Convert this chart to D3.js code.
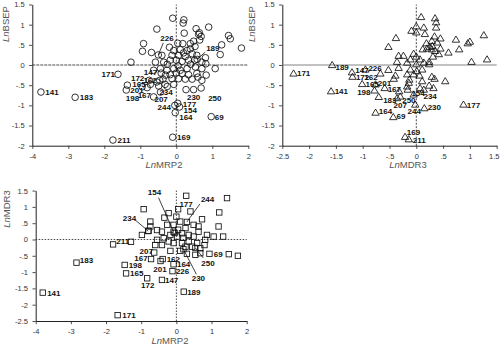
<!DOCTYPE html>
<html><head><meta charset="utf-8">
<script src="https://cdn.jsdelivr.net/npm/d3@7"></script>
<style>body{margin:0;background:#fff}svg{display:block}</style>
</head><body><svg id="c" width="500" height="347"></svg>
<script>
// ---------- DATA ----------
// Panel A: LnMRP2 (x) vs LnBSEP (y) — unlabeled cases
const mrp2BsepPoints = [
 [-0.10,1.16],[0.21,1.12],[0.19,1.04],[-0.54,0.89],[0.55,0.90],[0.90,0.94],[0.64,0.80],[0.22,0.79],
 [0.69,0.71],[0.62,0.76],[0.65,0.62],[1.45,0.73],[1.50,0.65],[-0.91,0.53],[1.26,0.50],[1.81,0.42],
 [-0.94,0.34],[-0.69,0.31],[1.22,0.26],[-1.26,0.07],[1.08,-0.09],[0.82,0.03],[0.83,-0.25],[-0.40,0.24],
 [-0.19,0.44],[0.04,0.54],[0.18,0.53],[0.39,0.53],[0.48,0.59],[0.39,0.40],[0.30,0.36],[0.11,0.38],
 [-0.07,0.36],[-0.12,0.24],[0.06,0.24],[0.25,0.21],[0.44,0.28],[0.57,0.24],[0.81,0.18],[-0.58,0.07],
 [-0.35,0.07],[-0.17,0.12],[0.00,0.12],[0.16,0.09],[0.34,0.12],[0.51,0.12],[0.71,0.07],[0.71,-0.09],
 [0.53,-0.05],[0.30,-0.09],[0.11,-0.13],[-0.07,-0.09],[-0.26,-0.13],[-0.44,-0.09],[-0.63,-0.13],[0.16,-0.21],
 [0.34,-0.24],[0.57,-0.21],[0.71,-0.38],[0.44,-0.35],[0.25,-0.35],[0.06,-0.34],[-0.12,-0.34],[-0.17,-0.24],
 [-0.37,-0.35],[-0.54,-0.42],[-0.72,-0.48],[-0.95,-0.54],[-0.49,-0.52],[-0.31,-0.48],[-0.07,-0.48],[0.27,-0.61],
 [0.05,-0.02],[-0.25,0.02],[0.40,0.02],[0.20,0.30],[-0.30,-0.25],[0.52,0.46],[0.60,-0.30],[0.00,-0.20]
];
const mrp2BsepLabeled = [
 [-3.76,-0.67,"141"],[-2.81,-0.80,"183"],[-1.76,-1.86,"211"],[-1.62,-0.23,"171"],[-0.10,-1.79,"169"],
 [0.97,-1.28,"69"],[0.04,-0.95,"177"],[0.09,-1.04,"154"],[-0.03,-1.18,"164"],[-0.04,-1.00,"244"],
 [0.48,-0.61,"230"],[0.69,-0.57,"250"],[-1.39,-0.62,"198"],[-1.36,-0.50,"165"],[-0.81,-0.56,"201"],
 [-0.63,-0.79,"167"],[-0.44,-0.67,"207"],[-0.25,-0.53,"234"],[-0.75,-0.38,"172"],[-0.42,-0.20,"147"],
 [-0.46,-0.38,"162"],[-0.50,0.25,"226"],[0.58,0.14,"189"]
];
// Panel B: LnMDR3 (x) vs LnBSEP (y)
const mdr3BsepPoints = [
 [0.09,1.19],[0.35,1.16],[0.00,0.96],[0.14,0.93],[-0.09,0.85],[0.00,0.81],[0.16,0.77],[0.37,1.06],
 [0.37,0.93],[1.26,0.74],[-0.38,0.67],[0.74,0.63],[0.34,0.71],[0.45,0.66],[0.29,0.60],[0.39,0.56],
 [0.19,0.54],[0.96,0.54],[1.00,0.58],[-0.52,0.45],[0.45,0.41],[0.80,0.39],[0.12,0.39],[0.20,0.41],
 [0.29,0.39],[0.35,0.35],[0.60,0.31],[0.42,0.27],[1.32,0.14],[1.03,0.08],[0.24,0.08],[0.31,0.21],
 [-0.33,0.23],[-0.24,0.23],[-0.05,0.28],[0.07,0.14],[0.00,0.21],[-0.11,0.14],[-0.17,0.06],[-0.36,0.08],
 [0.00,0.02],[0.14,0.06],[0.24,0.02],[-0.33,-0.07],[-0.52,-0.12],[-0.11,-0.11],[0.01,-0.15],[0.11,-0.11],
 [-0.17,-0.23],[-0.05,-0.23],[0.06,-0.26],[-0.39,-0.26],[-0.42,-0.34],[-0.13,-0.36],[0.11,-0.40],[0.29,-0.29],
 [0.34,-0.34],[0.54,-0.40],[0.24,-0.51],[0.07,-0.57],[-0.17,-0.53],[-0.14,-0.44],[-0.32,-0.65],[-0.05,-0.73],
 [0.14,-0.61],[0.25,0.45],[0.30,0.47]
];
const mdr3BsepLabeled = [
 [-2.29,-0.21,"171"],[-1.57,0.00,"189"],[-1.59,-0.65,"141"],[-1.20,-0.18,"147"],[-0.95,-0.11,"226"],
 [-1.19,-0.29,"172"],[-0.67,-0.21,"162"],[-1.01,-0.47,"165"],[-0.76,-0.48,"201"],[-0.59,-0.57,"167"],
 [-0.78,-0.63,"198"],[-0.70,-0.79,"183"],[-0.36,-0.82,"207"],[-0.30,-0.78,"250"],[-0.16,-0.61,"154"],
 [0.32,-0.57,"234"],[-0.76,-1.18,"164"],[-0.43,-1.29,"69"],[-0.02,-0.98,"244"],[0.15,-1.07,"230"],
 [0.88,-0.98,"177"],[-0.21,-1.78,"169"],[-0.14,-1.84,"211"]
];
// Panel C: LnMRP2 (x) vs LnMDR3 (y)
const mrp2Mdr3Points = [
 [-1.29,-0.07],[0.28,1.34],[1.44,1.27],[-0.22,0.81],[-0.34,0.67],[0.00,0.70],[0.40,0.86],[-0.93,0.93],
 [1.22,0.83],[0.73,0.62],[1.20,0.40],[-0.74,0.55],[-0.74,0.40],[-0.98,0.14],[-0.55,0.29],[-0.41,0.24],
 [-0.79,0.27],[-0.26,0.45],[-0.08,0.45],[0.11,0.55],[0.26,0.35],[0.49,0.45],[0.63,0.40],[0.63,0.24],
 [0.87,0.14],[1.06,0.09],[1.33,0.09],[-0.17,0.14],[0.02,0.09],[0.16,0.19],[0.35,0.14],[0.49,0.09],
 [-0.36,0.04],[-0.55,-0.01],[-0.22,-0.06],[-0.08,-0.11],[0.16,-0.11],[0.35,-0.06],[0.59,-0.11],[0.82,-0.01],
 [0.80,-0.17],[0.68,-0.27],[0.45,-0.22],[0.26,-0.22],[-0.41,-0.17],[-0.60,-0.17],[0.11,-0.35],[0.30,-0.44],
 [0.54,-0.47],[-0.17,-0.35],[1.49,-0.45],[1.75,-0.50],[0.68,-0.42],[0.05,0.30],[0.20,0.05],[-0.05,0.20]
];
const mrp2Mdr3Labeled = [
 [-3.80,-1.63,"141"],[-2.84,-0.71,"183"],[-1.67,-2.32,"171"],[-1.80,-0.15,"211"],[-1.47,-0.78,"198"],
 [-1.43,-1.04,"165"],[-0.83,-1.19,"172"],[-0.41,-1.24,"147"],[-0.45,-0.66,"201"],[-0.39,-0.60,"162"],
 [-0.08,-0.76,"164"],[-0.11,-0.97,"226"],[0.21,-1.60,"189"],[0.94,-0.44,"69"],[-0.72,-0.60,"167"],
 [-0.63,-0.40,"207"],[0.05,0.93,"177"],[-0.08,0.24,"154"],[0.30,0.54,"244"],[-0.80,0.26,"234"],
 [0.20,-0.30,"230"],[0.54,-0.26,"250"]
];
// tick values
const ticksMRP2 = [-4,-3,-2,-1,0,1,2];
const ticksBSEP = [-2,-1.5,-1,-0.5,0,0.5,1,1.5];
const ticksMDR3x = [-2.5,-2,-1.5,-1,-0.5,0,0.5,1,1.5];
const ticksMDR3y = [-2.5,-2,-1.5,-1,-0.5,0,0.5,1,1.5];

// ---------- LAYOUT (label offsets in px: dx, dy, anchor, optional leader end) ----------
const offA = {
 "141":[4.3,3,"start"],"183":[4.6,3,"start"],"211":[4.6,3,"start"],"171":[-3,3,"end"],"169":[4.4,3,"start"],
 "69":[3.5,3,"start"],"177":[5,3.5,"start"],"154":[4,6.5,"start"],"164":[4,7.5,"start"],"244":[-4,5,"end"],
 "230":[-6.6,10.4,"start"],"250":[7,12.6,"start"],"198":[-0.5,11,"start"],"165":[5,1.5,"start"],
 "201":[-3.5,5,"end"],"167":[-2.6,1.3,"end"],"207":[-6,10,"start"],"234":[-8,9,"start"],"172":[-5,1,"end"],
 "147":[-4,2,"end"],"162":[-3,2.5,"end"],"226":[2,-13.5,"start",[5,-12]],"189":[9,-8,"start",[8,-7.3]]
};
const offB = {
 "171":[3.4,3,"start"],"189":[3.3,4.6,"start"],"141":[3.6,2.3,"start"],"147":[3.3,1,"start"],"226":[3,2,"start"],
 "172":[3.4,3,"start"],"162":[-2.7,6.3,"end"],"165":[3.3,3,"start"],"201":[2.3,1.3,"start"],"167":[3,4,"start"],
 "198":[-4,4.7,"end"],"183":[4.4,5.7,"start"],"207":[-3.4,9.7,"start"],"250":[2,6.3,"start"],"154":[3.7,6.3,"start"],
 "234":[-10,10.7,"start"],"164":[3.3,1,"start"],"69":[3.3,1.7,"start"],"244":[-7.7,9.7,"start"],"230":[3.3,2,"start"],
 "177":[3.4,3,"start"],"169":[1.7,-2,"start"],"211":[4,3.7,"start"]
};
const offC = {
 "141":[4.4,3.3,"start"],"183":[3.3,0,"start"],"171":[4.7,3,"start"],"211":[3.3,-0.6,"start"],"198":[4,3,"start"],
 "165":[4,3,"start"],"172":[0.5,9.7,"middle"],"147":[3,3,"start"],"201":[-0.5,11.3,"middle"],"162":[4,3,"start"],
 "164":[3.4,3,"start"],"226":[3.4,3,"start"],"189":[3.4,3,"start"],"69":[4.3,3,"start"],"167":[-3.4,1.7,"end"],
 "207":[-1.3,1.3,"end"],"177":[1.3,-2,"start"],"154":[-19,-37,"middle",[-15,-34]],"244":[14,-19.5,"start",[13,-18]],
 "234":[-12,-10,"end",[-13,-11]],"230":[15,32,"middle",[13,25]],"250":[6,18.3,"start",[8,10]]
};

const svg = d3.select("#c");
const fmt = v => v === 0 ? "0" : String(v).replace(/^(-?)0\./, "$1.");
const LABEL_FONT = "'Liberation Sans Narrow','Arial Narrow','Liberation Sans',Arial,sans-serif";

function minorVals(domain, step){
  const out=[]; const n=Math.round((domain[1]-domain[0])/step);
  for(let i=0;i<=n;i++) out.push(+(domain[0]+i*step).toFixed(4));
  return out;
}

function marker(sel, type){
  if(type==="circle") sel.append("circle").attr("r",3.3);
  else if(type==="square") sel.append("rect").attr("x",-2.7).attr("y",-2.7).attr("width",5.4).attr("height",5.4);
  else sel.append("path").attr("d","M0,-3.6L3.7,2.6L-3.7,2.6Z");
}

function panel(c){
  const x = d3.scaleLinear().domain(c.xd).range(c.xr);
  const y = d3.scaleLinear().domain(c.yd).range(c.yr);
  const g = svg.append("g");
  // axes
  const xa = g.append("g").attr("transform",`translate(0,${c.yr[0]})`);
  xa.call(d3.axisBottom(x).tickValues(minorVals(c.xd,c.xMinor)).tickSize(1.6).tickSizeOuter(0).tickFormat(""));
  xa.call(d3.axisBottom(x).tickValues(c.xt).tickSize(3.2).tickSizeOuter(0).tickFormat(fmt));
  const ya = g.append("g").attr("transform",`translate(${c.xr[0]},0)`);
  ya.call(d3.axisLeft(y).tickValues(minorVals(c.yd,c.yMinor)).tickSize(1.6).tickSizeOuter(0).tickFormat(""));
  ya.call(d3.axisLeft(y).tickValues(c.yt).tickSize(3.2).tickSizeOuter(0).tickFormat(fmt));
  g.selectAll(".domain").attr("stroke","#222").attr("stroke-width",1);
  g.selectAll(".tick line").attr("stroke","#222").attr("stroke-width",0.8);
  g.selectAll(".tick text").attr("font-family","Arial,'Liberation Sans',sans-serif").attr("font-size",7.5).attr("fill","#333");
  xa.selectAll(".tick text").attr("dy","0.9em");
  ya.selectAll(".tick text").attr("dx","-0.2em");
  // keep the last x tick label inside the page
  const lastX = c.xt[c.xt.length-1];
  if (x(lastX) + 7 > 500) {
    xa.selectAll(".tick").filter(d => d === lastX).select("text")
      .attr("text-anchor","end").attr("x", 499 - x(lastX));
  }
  // zero reference lines
  g.append("line").attr("x1",x(0)).attr("x2",x(0)).attr("y1",c.yr[0]).attr("y2",c.yr[1])
    .attr("stroke",c.vCol).attr("stroke-width",0.9).attr("stroke-dasharray",c.vDash);
  g.append("line").attr("x1",c.xr[0]).attr("x2",c.xr[1]).attr("y1",y(0)).attr("y2",y(0))
    .attr("stroke",c.hCol).attr("stroke-width",0.9).attr("stroke-dasharray",c.hDash);
  // points
  const all = c.pts.map(d=>({x:d[0],y:d[1]})).concat(c.lab.map(d=>({x:d[0],y:d[1],l:d[2]})));
  const m = g.append("g").attr("fill","none").attr("stroke","#111").attr("stroke-width",0.85);
  all.forEach(d=>{
    const s = m.append("g").attr("transform",`translate(${x(d.x)},${y(d.y)})`);
    marker(s,c.type);
  });
  // labels + leaders
  const lg = g.append("g");
  c.lab.forEach(d=>{
    const o = c.off[d[2]] || [4,3,"start"];
    const px=x(d[0]), py=y(d[1]);
    if(o[3]) lg.append("line").attr("x1",px).attr("y1",py).attr("x2",px+o[3][0]).attr("y2",py+o[3][1])
      .attr("stroke","#111").attr("stroke-width",0.8);
    lg.append("text").attr("x",px+o[0]).attr("y",py+o[1]).attr("text-anchor",o[2])
      .attr("font-family",LABEL_FONT).attr("font-size",8).attr("font-weight","bold").attr("fill","#111").text(d[2]);
  });
  // titles
  const xt = g.append("text").attr("x",c.xTitle[0]).attr("y",c.xTitle[1]).attr("text-anchor","middle")
    .attr("font-family","Arial,'Liberation Sans',sans-serif").attr("font-size",9.5).attr("fill","#555");
  xt.append("tspan").attr("font-style","italic").text("Ln");
  xt.append("tspan").text(c.xName);
  const yt = g.append("text").attr("transform",`translate(${c.yTitle[0]},${c.yTitle[1]}) rotate(-90)`).attr("text-anchor","middle")
    .attr("font-family","Arial,'Liberation Sans',sans-serif").attr("font-size",9.5).attr("fill","#555");
  yt.append("tspan").attr("font-style","italic").text("Ln");
  yt.append("tspan").text(c.yName);
}

panel({xd:[-4,2],xr:[32.3,248.3],yd:[-2,1.5],yr:[145.7,4.5],xt:ticksMRP2,yt:ticksBSEP,xMinor:0.2,yMinor:0.1,
  type:"circle",pts:mrp2BsepPoints,lab:mrp2BsepLabeled,off:offA,xName:"MRP2",yName:"BSEP",
  xTitle:[164,168],yTitle:[9,24],vCol:"#333",vDash:"2,1.5",hCol:"#333",hDash:"3,1"});
panel({xd:[-2.5,1.5],xr:[282.3,496.7],yd:[-2,1.5],yr:[145.7,4.5],xt:ticksMDR3x,yt:ticksBSEP,xMinor:0.1,yMinor:0.1,
  type:"triangle",pts:mdr3BsepPoints,lab:mdr3BsepLabeled,off:offB,xName:"MDR3",yName:"BSEP",
  xTitle:[408,168],yTitle:[255,24],vCol:"#333",vDash:"2,1.5",hCol:"#777",hDash:null});
panel({xd:[-4,2],xr:[35.7,246.7],yd:[-2.5,1.5],yr:[321,190.6],xt:ticksMRP2,yt:ticksMDR3y,xMinor:0.2,yMinor:0.1,
  type:"square",pts:mrp2Mdr3Points,lab:mrp2Mdr3Labeled,off:offC,xName:"MRP2",yName:"MDR3",
  xTitle:[170,344],yTitle:[10,209],vCol:"#333",vDash:"1.5,1.5",hCol:"#333",hDash:"1.5,1.5"});
</script></body></html>
